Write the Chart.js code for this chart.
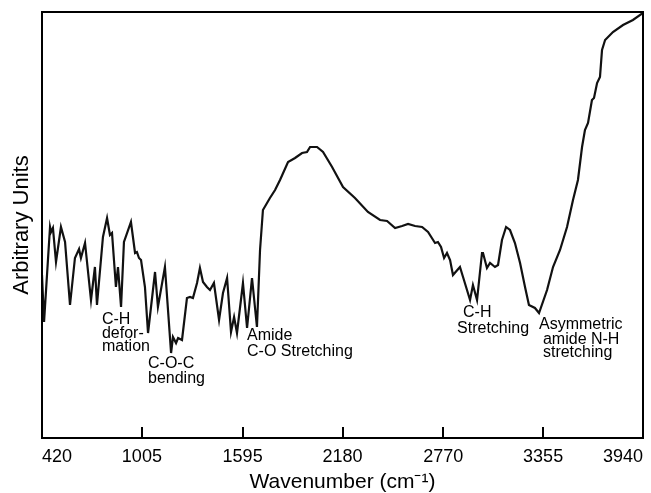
<!DOCTYPE html>
<html>
<head>
<meta charset="utf-8">
<script src="https://cdn.jsdelivr.net/npm/chart.js@4"></script>
<style>
  html, body { margin: 0; padding: 0; background: #fff; }
  #wrap { width: 651px; height: 493px; position: relative; }
</style>
</head>
<body>
<div id="wrap"><canvas id="c"></canvas></div>
<script>
// ---- data ----
const wavenumber = [420, 432, 467, 473, 484, 502, 531, 555, 584, 613, 637, 648, 672, 707, 730, 742, 777, 801, 818, 830,
  853, 865, 883, 900, 941, 965, 976, 988, 1000, 1023, 1041, 1082, 1099, 1140, 1176, 1187, 1205, 1217, 1240, 1269,
  1287, 1304, 1328, 1345, 1363, 1386, 1404, 1427, 1457, 1480, 1504, 1527, 1545, 1562, 1597, 1621, 1650, 1679, 1697, 1714,
  1755, 1785, 1814, 1861, 1902, 1943, 1972, 1990, 2031, 2066, 2119, 2183, 2253, 2329, 2400, 2441, 2488, 2529, 2564, 2605,
  2646, 2681, 2722, 2739, 2757, 2775, 2792, 2810, 2827, 2868, 2886, 2927, 2944, 2968, 2997, 3003, 3026, 3044, 3073, 3091,
  3114, 3138, 3161, 3190, 3220, 3249, 3272, 3307, 3331, 3378, 3413, 3454, 3495, 3530, 3559, 3583, 3600, 3618, 3641, 3653,
  3671, 3688, 3700, 3718, 3764, 3823, 3881, 3940];
const intensity = [163, 116, 211, 206, 210, 176, 211, 196, 133, 180, 189, 180, 195, 138, 171, 133, 201, 220, 203, 205,
  151, 171, 131, 196, 216, 185, 186, 180, 178, 151, 105, 166, 131, 171, 85, 101, 95, 100, 98, 140,
  141, 140, 155, 170, 156, 151, 148, 155, 118, 145, 160, 106, 121, 105, 155, 110, 160, 111, 188, 228,
  240, 248, 258, 276, 280, 285, 286, 291, 291, 286, 271, 251, 240, 226, 218, 217, 210, 212, 214, 212,
  211, 206, 195, 196, 191, 180, 185, 178, 163, 171, 161, 138, 153, 138, 185, 185, 170, 175, 171, 173,
  198, 211, 208, 195, 175, 151, 133, 130, 125, 148, 171, 188, 211, 238, 258, 291, 308, 315, 338, 340,
  355, 361, 388, 398, 406, 413, 418, 425];
const xTicks = [420, 1005, 1595, 2180, 2770, 3355, 3940];
const annotationLines = [
  ["C-H", 771, 114], ["defor-", 771, 100], ["mation", 771, 87],
  ["C-O-C", 1041, 70], ["bending", 1041, 55],
  ["Amide", 1621, 98], ["C-O Stretching", 1621, 82],
  ["C-H", 2886, 121], ["Stretching", 2851, 105],
  ["Asymmetric", 3331, 109], ["amide N-H", 3354, 94], ["stretching", 3354, 81]
];

const FONT = "'Liberation Sans', Arial, Helvetica, sans-serif";

const framePlugin = {
  id: 'frame',
  afterDatasetsDraw(chart) {
    const {ctx, chartArea: a, scales} = chart;
    const xs = scales.x, ys = scales.y;
    ctx.save();
    ctx.strokeStyle = '#000';
    ctx.lineWidth = 2;
    ctx.strokeRect(a.left, a.top, a.right - a.left, a.bottom - a.top);
    // inward tick marks
    xTicks.forEach(v => {
      const px = Math.round(xs.getPixelForValue(v));
      ctx.beginPath();
      ctx.moveTo(px, a.bottom);
      ctx.lineTo(px, a.bottom - 11);
      ctx.stroke();
    });
    // annotations
    ctx.fillStyle = '#000';
    ctx.font = '16px ' + FONT;
    ctx.textAlign = 'left';
    ctx.textBaseline = 'alphabetic';
    annotationLines.forEach(([t, wx, wy]) => {
      ctx.fillText(t, xs.getPixelForValue(wx), ys.getPixelForValue(wy));
    });
    ctx.restore();
  }
};

new Chart(document.getElementById('c'), {
  type: 'line',
  data: {
    datasets: [{
      data: wavenumber.map((w, i) => ({x: w, y: intensity[i]})),
      borderColor: '#111',
      borderWidth: 2.2,
      pointRadius: 0,
      tension: 0,
      fill: false
    }]
  },
  options: {
    responsive: true,
    maintainAspectRatio: false,
    animation: false,
    events: [],
    layout: { padding: { top: 12, right: 8, left: 0, bottom: 0 } },
    plugins: { legend: { display: false }, tooltip: { enabled: false } },
    scales: {
      x: {
        type: 'linear',
        min: 420, max: 3940,
        afterBuildTicks: s => { s.ticks = xTicks.map(v => ({value: v})); },
        afterFit: s => { s.height = 55; s.paddingLeft = 0; s.paddingRight = 0; },
        grid: { display: false, drawTicks: false },
        border: { display: false },
        ticks: { color: '#000', font: { size: 18, family: FONT }, padding: 8, maxRotation: 0, autoSkip: false,
                 align: 'inner', callback: v => String(v) },
        title: { display: true, text: 'Wavenumber (cm\u207B\u00B9)', color: '#000',
                 font: { size: 21, family: FONT, lineHeight: 1.0 }, padding: { top: 0, bottom: 0 } }
      },
      y: {
        min: 0, max: 426,
        afterFit: s => { s.width = 42; s.paddingTop = 0; s.paddingBottom = 0; },
        grid: { display: false, drawTicks: false },
        border: { display: false },
        ticks: { display: false },
        title: { display: true, text: 'Arbitrary Units', color: '#000',
                 font: { size: 22, family: FONT, lineHeight: 1.2 }, padding: { top: 9, bottom: 0 } }
      }
    }
  },
  plugins: [framePlugin]
});
</script>
</body>
</html>
